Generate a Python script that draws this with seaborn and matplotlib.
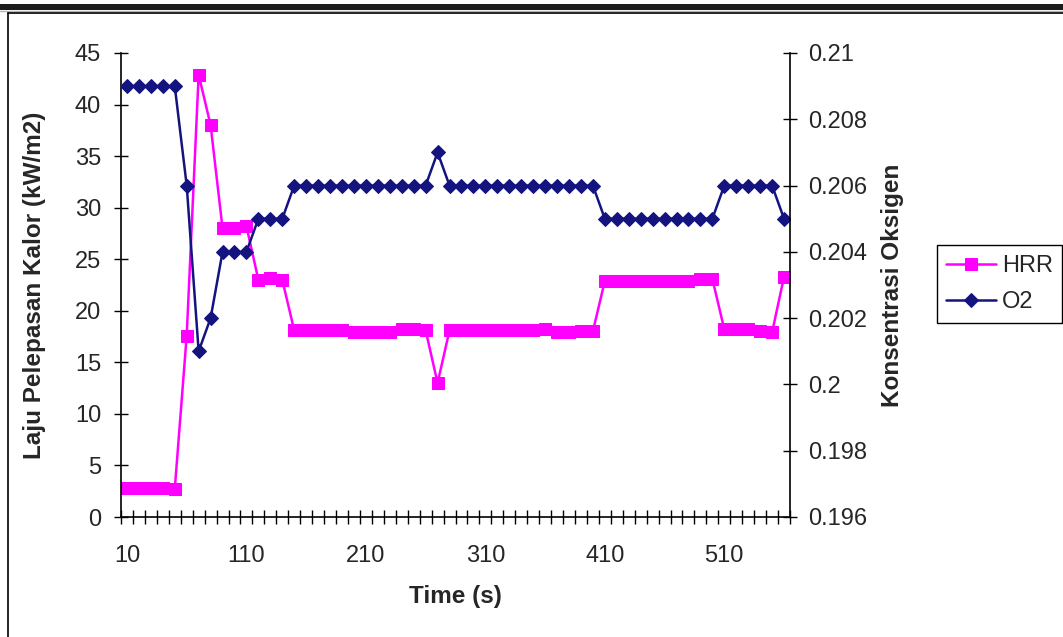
"""
plot.py - HRR vs O2 concentration over time (twin axis line chart)
"""
import matplotlib
matplotlib.use('Agg')
import matplotlib.pyplot as plt
from matplotlib.lines import Line2D
from matplotlib.patches import Rectangle
import seaborn as sns
import pandas as pd

# ── DATA ─────────────────────────────────────────────────────
TIME_S = list(range(10, 561, 10))  # categories 10..560 s

HRR = [2.8, 2.8, 2.8, 2.8, 2.7, 17.6, 42.9, 38.0, 28.0, 28.0, 28.2, 23.0, 23.2, 23.0,
       18.1, 18.1, 18.1, 18.1, 18.1, 17.9, 17.9, 17.9, 17.9, 18.2, 18.2, 18.1, 13.0,
       18.1, 18.1, 18.1, 18.1, 18.1, 18.1, 18.1, 18.1, 18.2,
       17.9, 17.9, 18.0, 18.0,
       22.9, 22.9, 22.9, 22.9, 22.9, 22.9, 22.9, 22.9, 23.1, 23.1,
       18.2, 18.2, 18.2, 18.0, 17.9, 23.3]

O2 = [0.209, 0.209, 0.209, 0.209, 0.209, 0.206, 0.201, 0.202, 0.204, 0.204, 0.204,
      0.205, 0.205, 0.205,
      0.206, 0.206, 0.206, 0.206, 0.206, 0.206, 0.206, 0.206, 0.206, 0.206, 0.206, 0.206,
      0.207,
      0.206, 0.206, 0.206, 0.206, 0.206, 0.206, 0.206, 0.206, 0.206, 0.206, 0.206, 0.206, 0.206,
      0.205, 0.205, 0.205, 0.205, 0.205, 0.205, 0.205, 0.205, 0.205, 0.205,
      0.206, 0.206, 0.206, 0.206, 0.206, 0.205]

X_LABELS = [10, 110, 210, 310, 410, 510]
LEFT_TICKS = [0, 5, 10, 15, 20, 25, 30, 35, 40, 45]
RIGHT_TICKS = [0.196, 0.198, 0.200, 0.202, 0.204, 0.206, 0.208, 0.210]
RIGHT_LABELS = ["0.196", "0.198", "0.2", "0.202", "0.204", "0.206", "0.208", "0.21"]

df = pd.DataFrame({"Time": TIME_S, "HRR": HRR, "O2": O2})

# ── STYLE ────────────────────────────────────────────────────
sns.set_style("white")
plt.rcParams['font.family'] = ['Liberation Sans', 'DejaVu Sans']

HRR_COLOR = "#FF00FF"
O2_COLOR = "#141480"
W, H = 1063, 637
TICK_FS = 17
LABEL_FS = 17.5

fig = plt.figure(figsize=(W / 100, H / 100), dpi=100)
fig.patch.set_facecolor("white")

# plot area in pixel coords of the reference
x0, x1, y_top, y_bot = 121, 790, 53, 517
ax = fig.add_axes([x0 / W, 1 - y_bot / H, (x1 - x0) / W, (y_bot - y_top) / H])
ax2 = ax.twinx()

sns.lineplot(data=df, x="Time", y="HRR", ax=ax, color=HRR_COLOR, marker="s",
             markersize=8.5, markeredgecolor=HRR_COLOR, linewidth=1.8, label="HRR",
             legend=False)
sns.lineplot(data=df, x="Time", y="O2", ax=ax2, color=O2_COLOR, marker="D",
             markersize=7, markeredgecolor=O2_COLOR, linewidth=1.8, label="O2",
             legend=False)

# ── AXES ─────────────────────────────────────────────────────
ax.set_xlim(5, 565)
ax.set_ylim(0, 45)
ax2.set_ylim(0.196, 0.210)

ax.set_xticks(X_LABELS)
ax.set_xticklabels([str(v) for v in X_LABELS])
ax.set_xticks([t - 5 for t in TIME_S] + [TIME_S[-1] + 5], minor=True)
ax.tick_params(axis="x", which="major", length=0, pad=20, labelsize=TICK_FS,
               bottom=True)
ax.tick_params(axis="x", which="minor", length=10, width=1, direction="inout",
               color="black", bottom=True)

ax.set_yticks(LEFT_TICKS)
ax.set_yticklabels([str(v) for v in LEFT_TICKS])
ax.tick_params(axis="y", which="major", length=10.5, width=1, direction="inout",
               pad=9, labelsize=TICK_FS, color="black", left=True)

ax2.set_yticks(RIGHT_TICKS)
ax2.set_yticklabels(RIGHT_LABELS)
ax2.tick_params(axis="y", which="major", length=10, width=1, direction="inout",
                pad=8, labelsize=TICK_FS, color="black", right=True)

for a in (ax, ax2):
    a.spines["top"].set_visible(False)
    for s in ("left", "right", "bottom"):
        a.spines[s].set_color("black")
        a.spines[s].set_linewidth(1.2)
    a.grid(False)
    a.set_facecolor("none")
ax2.spines["left"].set_visible(False)
ax2.spines["bottom"].set_visible(False)
ax.spines["right"].set_visible(False)

ax.set_xlabel("Time (s)", fontsize=LABEL_FS, fontweight="bold", va="center")
ax.xaxis.set_label_coords(0.5, (y_bot - 596) / (y_bot - y_top))
ax.set_ylabel("Laju Pelepasan Kalor (kW/m2)", fontsize=LABEL_FS, fontweight="bold",
              va="center")
ax.yaxis.set_label_coords((35 - x0) / (x1 - x0), 0.5)
ax2.set_ylabel("Konsentrasi Oksigen", fontsize=LABEL_FS, fontweight="bold",
               va="center", rotation=90)
ax2.yaxis.set_label_coords((893 - x0) / (x1 - x0), 0.5)

# ── LEGEND ───────────────────────────────────────────────────
handles = ax.get_lines()[:1] + ax2.get_lines()[:1]
leg = fig.legend(handles, ["HRR", "O2"], loc="center left",
                 bbox_to_anchor=(937 / W, 1 - 284 / H), fontsize=17,
                 frameon=True, fancybox=False, framealpha=1, edgecolor="black",
                 handlelength=2.1, labelspacing=0.6, borderpad=0.4,
                 handletextpad=0.25, borderaxespad=0)
leg.get_frame().set_linewidth(1.0)

# ── PAGE FRAME (scan border) ─────────────────────────────────
fig.add_artist(Rectangle((0, 1 - 9.5 / H), 1, 5.5 / H, transform=fig.transFigure,
                         facecolor="#1c1c1c", edgecolor="none"))
fig.add_artist(Line2D([0, 1], [1 - 11.3 / H] * 2, transform=fig.transFigure,
                      color="#b5b5b5", linewidth=1.0))
fig.add_artist(Line2D([8 / W, 1], [1 - 13.2 / H] * 2, transform=fig.transFigure,
                      color="black", linewidth=1.2))
fig.add_artist(Line2D([8 / W, 8 / W], [0, 1 - 13.2 / H], transform=fig.transFigure,
                      color="black", linewidth=1.2))

fig.savefig("out.png", dpi=100, facecolor="white")
